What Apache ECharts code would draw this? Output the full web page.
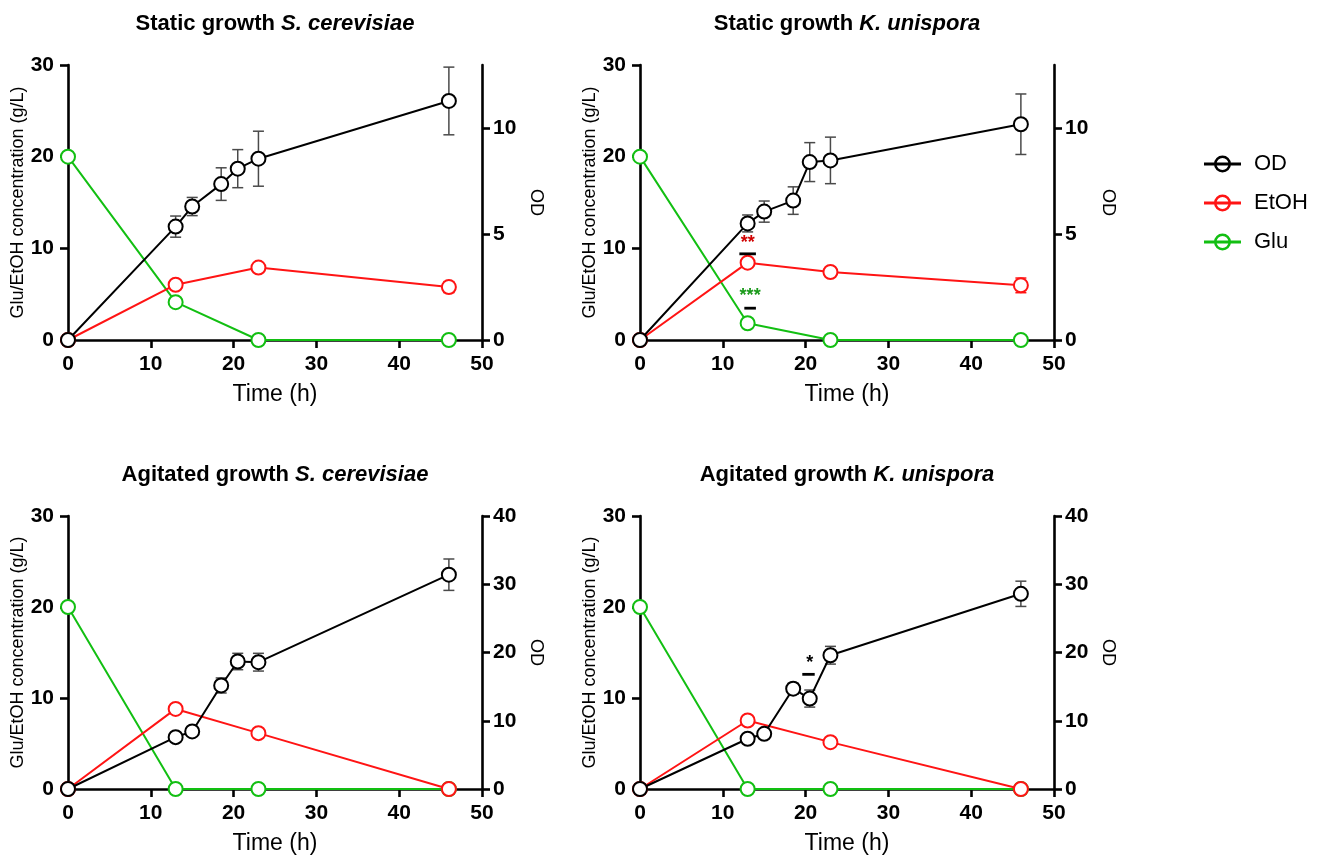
<!DOCTYPE html>
<html><head><meta charset="utf-8">
<script src="https://cdn.jsdelivr.net/npm/echarts@6/dist/echarts.min.js"></script>
<style>html,body{margin:0;padding:0;background:#fff}#c{width:1328px;height:862px}</style>
</head><body><div id="c"></div>
<script>
// ---- data ----
const timeOD = [0, 13, 15, 18.5, 20.5, 23, 46];
const timeMet = [0, 13, 23, 46];

const odStaticSC = [0, 5.36, 6.31, 7.37, 8.10, 8.57, 11.30];
const odStaticSCErr = [0, 0.5, 0.43, 0.77, 0.9, 1.3, 1.6];
const etohStaticSC = [0, 6.03, 7.9, 5.77];
const etohStaticSCErr = [0, 0, 0, 0.6];
const gluStaticSC = [20, 4.13, 0, 0];

const odStaticKU = [0, 5.51, 6.07, 6.59, 8.41, 8.49, 10.2];
const odStaticKUErr = [0, 0.4, 0.5, 0.65, 0.92, 1.1, 1.43];
const etohStaticKU = [0, 8.44, 7.42, 5.96];
const etohStaticKUErr = [0, 0, 0, 0.8];
const gluStaticKU = [20, 1.83, 0, 0];

const odAgitSC = [0, 7.6, 8.43, 15.17, 18.68, 18.58, 31.4];
const odAgitSCErr = [0, 0.4, 0.3, 1.1, 1.2, 1.3, 2.3];
const etohAgitSC = [0, 8.8, 6.14, 0];
const etohAgitSCErr = [0, 0, 0, 0];
const gluAgitSC = [20, 0, 0, 0];

const odAgitKU = [0, 7.36, 8.09, 14.7, 13.25, 19.6, 28.6];
const odAgitKUErr = [0, 0.3, 0.3, 0.8, 1.25, 1.3, 1.85];
const etohAgitKU = [0, 7.53, 5.15, 0];
const etohAgitKUErr = [0, 0, 0, 0];
const gluAgitKU = [20, 0, 0, 0];

// significance marks: [label, x, yText, barFrom, barTo, yBar]
const sigStaticKU = [['**', 13, 10.6, 12, 14, 9.4], ['***', 13.3, 4.75, 12.6, 14, 3.47]];
const sigAgitKU = [['*', 20.5, 13.8, 19.6, 21.1, 12.6]];

const titleA = ['Static growth ', 'Static growth ', 'Agitated growth ', 'Agitated growth '];
const titleB = ['S. cerevisiae', 'K. unispora', 'S. cerevisiae', 'K. unispora'];
const xTicks = [0, 10, 20, 30, 40, 50];
const leftTicks = [0, 10, 20, 30];
const rightTicksTop = [0, 5, 10];
const rightTicksBottom = [0, 10, 20, 30, 40];
const rightMax = [13, 13, 40, 40];

// ---- styles ----
const BLACK = '#000000', RED = '#ff1414', GREEN = '#12bf12', ERRGREY = '#4a4a4a';
const sigColors = [['#d00000', '#1a9a1a'], ['#000000']];
const FONT = '"Liberation Sans", Arial, sans-serif';
const gridPos = [
  {left: 68, top: 65, width: 414, height: 275},
  {left: 640, top: 65, width: 414, height: 275},
  {left: 68, top: 516, width: 414, height: 273},
  {left: 640, top: 516, width: 414, height: 273}
];
const panels = [
  {od: odStaticSC, odE: odStaticSCErr, et: etohStaticSC, etE: etohStaticSCErr, gl: gluStaticSC, rt: rightTicksTop, sig: null},
  {od: odStaticKU, odE: odStaticKUErr, et: etohStaticKU, etE: etohStaticKUErr, gl: gluStaticKU, rt: rightTicksTop, sig: 0},
  {od: odAgitSC, odE: odAgitSCErr, et: etohAgitSC, etE: etohAgitSCErr, gl: gluAgitSC, rt: rightTicksBottom, sig: null},
  {od: odAgitKU, odE: odAgitKUErr, et: etohAgitKU, etE: etohAgitKUErr, gl: gluAgitKU, rt: rightTicksBottom, sig: 1}
];
const sigSets = [sigStaticKU, sigAgitKU];

const axLine = {show: true, lineStyle: {color: BLACK, width: 2.6}};
const axTick = (vals) => ({show: true, length: 8, customValues: vals, lineStyle: {color: BLACK, width: 2.6}});
const axLabel = (vals, margin) => ({customValues: vals, margin: margin, color: BLACK, fontFamily: FONT, fontWeight: 'bold', fontSize: 21});

const grid = [], xAxis = [], yAxis = [], series = [], graphic = [];

panels.forEach((p, i) => {
  grid.push(Object.assign({containLabel: false}, gridPos[i]));
  xAxis.push({
    type: 'value', gridIndex: i, min: 0, max: 50, interval: 10,
    name: 'Time (h)', nameLocation: 'middle', nameGap: 43,
    nameTextStyle: {fontFamily: FONT, fontSize: 23, color: BLACK},
    axisLine: axLine, axisTick: axTick(xTicks), axisLabel: axLabel(xTicks, 14), splitLine: {show: false}
  });
  yAxis.push({
    type: 'value', gridIndex: i, min: 0, max: 30, interval: 10, position: 'left',
    name: 'Glu/EtOH concentration (g/L)', nameLocation: 'middle', nameGap: 41, nameRotate: 90,
    nameTextStyle: {fontFamily: FONT, fontSize: 18, color: BLACK},
    axisLine: axLine, axisTick: axTick(leftTicks), axisLabel: axLabel(leftTicks, 14), splitLine: {show: false}
  });
  yAxis.push({
    type: 'value', gridIndex: i, min: 0, max: rightMax[i], position: 'right',
    name: 'OD', nameLocation: 'middle', nameGap: 45, nameRotate: -90,
    nameTextStyle: {fontFamily: FONT, fontSize: 18, color: BLACK},
    axisLine: axLine, axisTick: axTick(p.rt), axisLabel: axLabel(p.rt, 11), splitLine: {show: false}
  });
  const yl = i * 2, yr = i * 2 + 1;
  const mkErr = (xs, ys, es, color, yIdx) => ({
    type: 'custom', xAxisIndex: i, yAxisIndex: yIdx, z: 1, silent: true,
    data: xs.map((x, k) => [x, ys[k], es[k]]),
    encode: {x: 0, y: 1},
    renderItem: function (params, api) {
      const x = api.value(0), y = api.value(1), e = api.value(2);
      if (!e) return null;
      const t = api.coord([x, y + e]), b = api.coord([x, y - e]);
      const w = 5.5;
      const st = {stroke: color, lineWidth: 1.5};
      return {type: 'group', children: [
        {type: 'line', shape: {x1: t[0], y1: t[1], x2: b[0], y2: b[1]}, style: st},
        {type: 'line', shape: {x1: t[0] - w, y1: t[1], x2: t[0] + w, y2: t[1]}, style: st},
        {type: 'line', shape: {x1: b[0] - w, y1: b[1], x2: b[0] + w, y2: b[1]}, style: st}
      ]};
    }
  });
  const mkLine = (name, xs, ys, color, yIdx, z) => ({
    type: 'line', name: name, xAxisIndex: i, yAxisIndex: yIdx, z: z,
    data: xs.map((x, k) => [x, ys[k]]),
    symbol: 'emptyCircle', symbolSize: 14, showSymbol: true,
    lineStyle: {color: color, width: 2}, itemStyle: {color: color, borderColor: color, borderWidth: 2},
    emphasis: {disabled: true}, animation: false
  });
  series.push(mkErr(timeOD, p.od, p.odE, ERRGREY, yr));
  series.push(mkErr(timeMet, p.et, p.etE, RED, yl));
  series.push(mkLine('Glu', timeMet, p.gl, GREEN, yl, 3));
  series.push(mkLine('EtOH', timeMet, p.et, RED, yl, 4));
  series.push(mkLine('OD', timeOD, p.od, BLACK, yr, 5));
  if (p.sig !== null) {
    const cols = sigColors[p.sig];
    series.push({
      type: 'custom', xAxisIndex: i, yAxisIndex: yl, z: 6, silent: true,
      data: sigSets[p.sig].map((s, k) => [s[1], s[2], s[3], s[4], s[5], k]),
      encode: {x: 0, y: 1},
      renderItem: function (params, api) {
        const k = api.value(5);
        const lab = sigSets[p.sig][k][0];
        const tp = api.coord([api.value(0), api.value(1)]);
        const b0 = api.coord([api.value(2), api.value(4)]);
        const b1 = api.coord([api.value(3), api.value(4)]);
        return {type: 'group', children: [
          {type: 'text', x: tp[0], y: tp[1], style: {text: lab, fill: cols[k], font: 'bold 18px ' + FONT, align: 'center', verticalAlign: 'middle'}},
          {type: 'line', shape: {x1: b0[0], y1: b0[1], x2: b1[0], y2: b1[1]}, style: {stroke: BLACK, lineWidth: 2.8}}
        ]};
      }
    });
  }
  graphic.push({
    type: 'text', x: gridPos[i].left + gridPos[i].width / 2, y: gridPos[i].top - 41,
    style: {
      text: '{a|' + titleA[i] + '}{b|' + titleB[i] + '}', align: 'center', verticalAlign: 'middle',
      rich: {
        a: {fontFamily: FONT, fontWeight: 'bold', fontSize: 22, fill: BLACK},
        b: {fontFamily: FONT, fontWeight: 'bold', fontStyle: 'italic', fontSize: 22, fill: BLACK}
      }
    }
  });
});

// legend glyph: horizontal bar with a hollow ring (37 x 17 box)
const legendGlyph = 'path://M0 7 H37 V10 H0 Z M27 8.5 A8.5 8.5 0 1 1 10 8.5 A8.5 8.5 0 1 1 27 8.5 Z M24.5 8.5 A6 6 0 1 0 12.5 8.5 A6 6 0 1 0 24.5 8.5 Z';

const option = {
  backgroundColor: '#ffffff',
  animation: false,
  grid, xAxis, yAxis, series, graphic,
  legend: {
    orient: 'vertical', left: 1199, top: 148, itemWidth: 37, itemHeight: 17, itemGap: 17,
    selectedMode: false,
    itemStyle: {borderWidth: 0},
    textStyle: {fontFamily: FONT, fontSize: 22, color: BLACK, padding: [0, 0, 0, 8]},
    data: [
      {name: 'OD', icon: legendGlyph, itemStyle: {color: BLACK}},
      {name: 'EtOH', icon: legendGlyph, itemStyle: {color: RED}},
      {name: 'Glu', icon: legendGlyph, itemStyle: {color: GREEN}}
    ]
  }
};
const chart = echarts.init(document.getElementById('c'), null, {renderer: 'canvas'});
chart.setOption(option);
</script></body></html>
